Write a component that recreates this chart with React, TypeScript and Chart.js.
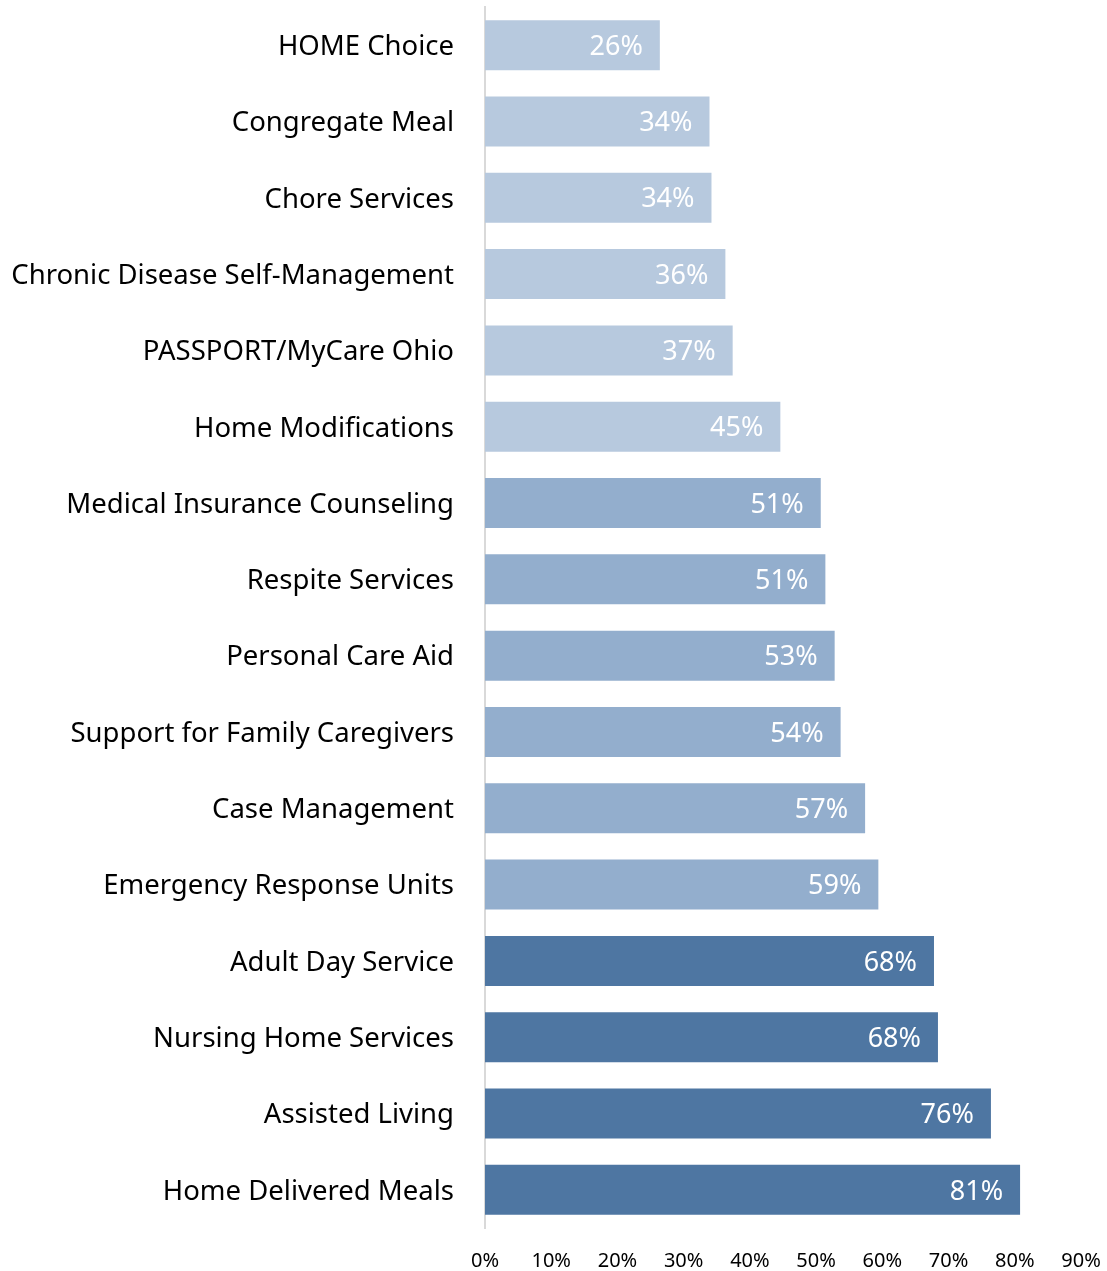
import React, { useEffect, useRef } from "react";
import { Chart, registerables } from "chart.js";

Chart.register(...registerables);

const categories = [
  "HOME Choice",
  "Congregate Meal",
  "Chore Services",
  "Chronic Disease Self-Management",
  "PASSPORT/MyCare Ohio",
  "Home Modifications",
  "Medical Insurance Counseling",
  "Respite Services",
  "Personal Care Aid",
  "Support for Family Caregivers",
  "Case Management",
  "Emergency Response Units",
  "Adult Day Service",
  "Nursing Home Services",
  "Assisted Living",
  "Home Delivered Meals",
];

const values = [26.4, 33.9, 34.2, 36.3, 37.4, 44.6, 50.7, 51.4, 52.8, 53.7, 57.4, 59.4, 67.8, 68.4, 76.4, 80.8];

const tiers = [0, 0, 0, 0, 0, 0, 1, 1, 1, 1, 1, 1, 2, 2, 2, 2];
const tierColors = ["#B7C9DE", "#93AECD", "#4E76A2"];

const xTicks = [0, 10, 20, 30, 40, 50, 60, 70, 80, 90];

const FONT = "'Noto Sans', 'Open Sans', sans-serif";

const valueLabelPlugin = {
  id: "valueLabels",
  afterDatasetsDraw(chart: any) {
    const ctx = chart.ctx;
    const meta = chart.getDatasetMeta(0);
    ctx.save();
    ctx.font = `27px ${FONT}`;
    ctx.fillStyle = "#FFFFFF";
    ctx.textAlign = "right";
    ctx.textBaseline = "middle";
    meta.data.forEach((bar: any, i: number) => {
      const v = chart.data.datasets[0].data[i] as number;
      ctx.fillText(`${Math.round(v)}%`, bar.x - 17, bar.y + 2);
    });
    ctx.restore();
  },
};

export default function App() {
  const ref = useRef<HTMLCanvasElement | null>(null);
  useEffect(() => {
    if (!ref.current) return;
    const chart = new Chart(ref.current, {
      type: "bar",
      data: {
        labels: categories,
        datasets: [
          {
            data: values,
            backgroundColor: tiers.map((t) => tierColors[t]),
            borderWidth: 0,
            barPercentage: 0.655,
            categoryPercentage: 1,
          },
        ],
      },
      options: {
        indexAxis: "y",
        animation: false,
        responsive: false,
        maintainAspectRatio: false,
        layout: { padding: { top: 7, right: 26, bottom: 0, left: 0 } },
        plugins: {
          legend: { display: false },
          tooltip: { enabled: false },
          title: { display: false },
        },
        scales: {
          x: {
            type: "linear",
            min: 0,
            max: 90,
            afterBuildTicks: (scale: any) => {
              scale.ticks = xTicks.map((v) => ({ value: v }));
            },
            afterFit: (scale: any) => {
              scale.height = 1271 - 1228;
              scale.paddingLeft = 0;
              scale.paddingRight = 0;
            },
            grid: { display: false, drawTicks: false },
            border: { display: false },
            ticks: {
              padding: 21,
              color: "#000000",
              font: { family: FONT, size: 20 },
              maxRotation: 0,
              callback: (v: any) => `${v}%`,
            },
          },
          y: {
            type: "category",
            afterFit: (scale: any) => {
              scale.width = 485;
              scale.paddingTop = 0;
              scale.paddingBottom = 0;
            },
            grid: { display: false, drawTicks: false },
            border: { display: true, color: "#D9D9D9", width: 2 },
            ticks: {
              padding: 31,
              labelOffset: 2,
              color: "#000000",
              font: { family: FONT, size: 27.5 },
              autoSkip: false,
            },
          },
        },
      },
      plugins: [valueLabelPlugin],
    });
    return () => chart.destroy();
  }, []);
  return (
    <div style={{ position: "absolute", left: 0, top: 0, width: 1107, height: 1271, background: "#fff" }}>
      <canvas ref={ref} width={1107} height={1271} style={{ width: 1107, height: 1271, display: "block" }} />
    </div>
  );
}
